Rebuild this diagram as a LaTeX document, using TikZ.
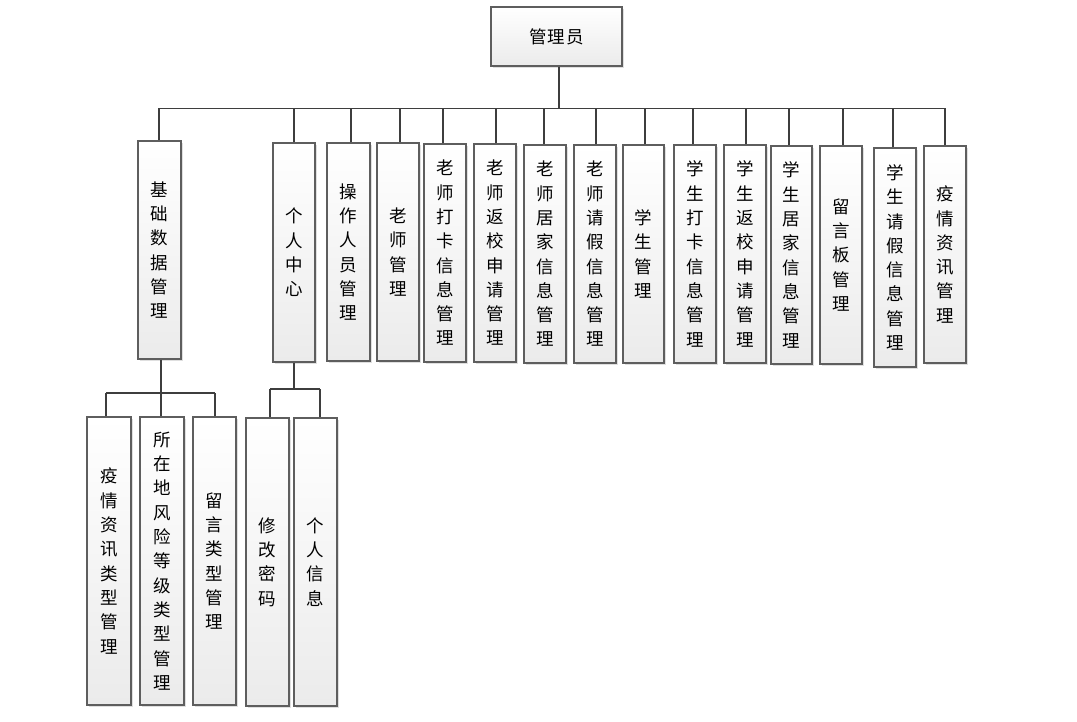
\documentclass[tikz,border=0pt]{standalone}
\usepackage{fontspec}
\newfontfamily\cjk{Noto Sans CJK SC}
\usetikzlibrary{shadows}
\definecolor{boxline}{HTML}{5E5E5E}
\definecolor{conline}{HTML}{3E3E3E}
\definecolor{boxbot}{HTML}{EBEBEB}
\tikzset{
  box/.style={draw=boxline, line width=1.1pt, top color=white, bottom color=boxbot,
    inner sep=0pt, align=center, font=\cjk\fontsize{17.5}{24.3}\selectfont,
    drop shadow={shadow xshift=2pt, shadow yshift=-2pt, opacity=0.25, fill=gray}},
  con/.style={draw=conline, line width=1.5pt}
}
% name, left, top, right, bottom, text
\newcommand\mybox[6]{%
  \node[box, minimum width={(#4-#2)*1pt}, minimum height={(#5-#3)*1pt}]
    (#1) at ({(#2+#4)/2}, {-(#3+#5)/2}) {#6};}
\begin{document}
\begin{tikzpicture}[x=1pt,y=1pt]
\useasboundingbox (0,0) rectangle (1077,-722);
\mybox{root}{491}{7}{622}{66}{管\kern1pt 理\kern1pt 员}
\mybox{a1}{138}{141}{181}{359}{基\\础\\数\\据\\管\\理}
\mybox{a2}{273}{143}{315}{362}{个\\人\\中\\心}
\mybox{a3}{327}{143}{370}{361}{操\\作\\人\\员\\管\\理}
\mybox{a4}{377}{143}{419}{361}{老\\师\\管\\理}
\mybox{a5}{424}{144}{466}{362}{老\\师\\打\\卡\\信\\息\\管\\理}
\mybox{a6}{474}{144}{516}{362}{老\\师\\返\\校\\申\\请\\管\\理}
\mybox{a7}{524}{145}{566}{363}{老\\师\\居\\家\\信\\息\\管\\理}
\mybox{a8}{574}{145}{616}{363}{老\\师\\请\\假\\信\\息\\管\\理}
\mybox{a9}{623}{145}{664}{363}{学\\生\\管\\理}
\mybox{a10}{674}{145}{716}{363}{学\\生\\打\\卡\\信\\息\\管\\理}
\mybox{a11}{724}{145}{766}{363}{学\\生\\返\\校\\申\\请\\管\\理}
\mybox{a12}{771}{146}{812}{364}{学\\生\\居\\家\\信\\息\\管\\理}
\mybox{a13}{820}{146}{862}{364}{留\\言\\板\\管\\理}
\mybox{a14}{874}{148}{916}{367}{学\\生\\请\\假\\信\\息\\管\\理}
\mybox{a15}{924}{146}{966}{363}{疫\\情\\资\\讯\\管\\理}
\mybox{b1}{87}{417}{131}{705}{疫\\情\\资\\讯\\类\\型\\管\\理}
\mybox{b2}{140}{417}{184}{705}{所\\在\\地\\风\\险\\等\\级\\类\\型\\管\\理}
\mybox{b3}{193}{417}{236}{705}{留\\言\\类\\型\\管\\理}
\mybox{c1}{246}{418}{289}{706}{修\\改\\密\\码}
\mybox{c2}{294}{418}{337}{706}{个\\人\\信\\息}
% bars
\coordinate (barA) at (0,-108.5);
\coordinate (barB) at (0,-393);
\coordinate (barC) at (0,-389);
\draw[con] ([xshift=2.5pt]root.south) -- ([xshift=2.5pt]root.south |- barA);
\draw[con] ([xshift=-0.5pt]a1.north |- barA) -- ([xshift=0pt]a15.north |- barA);
\foreach \n/\s in {a1/-0.5,a2/0,a3/2.5,a4/2,a5/-2,a6/1,a7/-1,a8/1,a9/1.5,a10/-2,a11/1,a12/-2.5,a13/2,a14/-2,a15/0}{
  \draw[con] ([xshift=\s pt]\n.north) -- ([xshift=\s pt]\n.north |- barA);
}
\draw[con] ([xshift=1.5pt]a1.south) -- ([xshift=1.5pt]a1.south |- barB);
\draw[con] ([xshift=-3pt]b1.north |- barB) -- ([xshift=0.5pt]b3.north |- barB);
\foreach \n/\s in {b1/-3,b2/-1,b3/0.5}{
  \draw[con] ([xshift=\s pt]\n.north) -- ([xshift=\s pt]\n.north |- barB);
}
\draw[con] (a2.south) -- (a2.south |- barC);
\draw[con] ([xshift=2.5pt]c1.north |- barC) -- ([xshift=4.5pt]c2.north |- barC);
\foreach \n/\s in {c1/2.5,c2/4.5}{
  \draw[con] ([xshift=\s pt]\n.north) -- ([xshift=\s pt]\n.north |- barC);
}
\end{tikzpicture}
\end{document}
